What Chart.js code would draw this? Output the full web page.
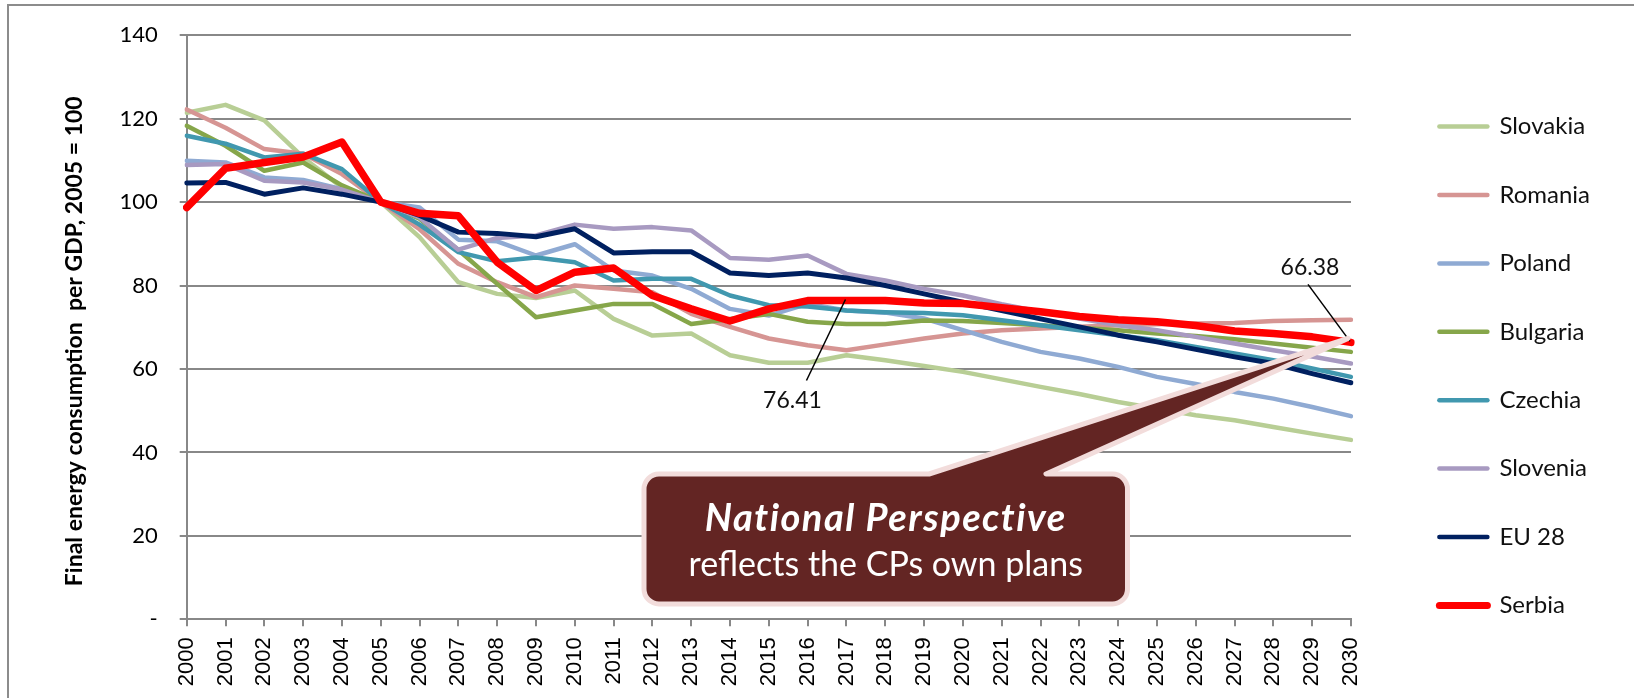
<!DOCTYPE html>
<html>
<head>
<meta charset="utf-8">
<script src="https://cdn.jsdelivr.net/npm/chart.js@4.4.1/dist/chart.umd.min.js"></script>
<style>
  html, body { margin: 0; padding: 0; background: #ffffff; }
  #wrap { width: 1640px; height: 698px; }
</style>
</head>
<body>
<div id="wrap"><canvas id="c" width="1640" height="698"></canvas></div>
<script>
// ---------------- DATA ----------------
const years = ['2000','2001','2002','2003','2004','2005','2006','2007','2008','2009','2010',
               '2011','2012','2013','2014','2015','2016','2017','2018','2019','2020',
               '2021','2022','2023','2024','2025','2026','2027','2028','2029','2030'];

const slovakia = [121.4,123.3,119.6,110.7,103.5,100,91.6,80.8,78.0,77.0,78.8,
                  72.0,68.0,68.5,63.3,61.5,61.5,63.3,62.1,60.7,59.3,
                  57.5,55.7,54.0,52.1,50.5,48.9,47.7,46.1,44.5,43.0];
const romania  = [122.2,117.8,112.7,111.6,106.7,100,93.5,85.2,80.8,77.2,80.0,
                  79.2,78.4,73.2,70.1,67.3,65.7,64.5,65.9,67.3,68.5,
                  69.3,69.7,70.1,70.5,70.7,70.9,71.0,71.5,71.7,71.8];
const poland   = [109.9,109.5,105.9,105.3,103.1,100,98.7,91.0,90.6,87.2,89.9,
                  83.6,82.4,79.2,74.4,72.8,75.6,74.0,73.5,72.1,69.3,
                  66.5,64.1,62.5,60.5,58.1,56.4,54.5,52.9,50.9,48.7];
const bulgaria = [118.3,113.5,107.5,109.5,104.0,100,96.0,88.5,80.4,72.4,74.0,
                  75.6,75.6,70.8,72.0,73.2,71.3,70.8,70.8,71.6,71.5,
                  71.0,70.5,69.9,69.3,68.5,67.9,67.1,66.1,65.1,64.1];
const czechia  = [115.9,114.0,110.7,111.6,107.9,100,94.6,88.0,85.8,86.7,85.6,
                  81.2,81.6,81.6,77.6,75.3,75.0,74.0,73.6,73.4,72.9,
                  71.7,70.5,69.3,68.1,66.9,65.3,63.7,62.1,60.1,58.1];
const slovenia = [108.9,109.1,105.1,104.7,103.0,100,96.3,88.6,91.4,92.0,94.6,
                  93.6,94.0,93.2,86.6,86.2,87.2,82.8,81.2,79.2,77.6,
                  75.5,73.7,72.1,70.5,69.3,67.7,66.1,64.5,63.0,61.3];
const eu28     = [104.6,104.7,101.9,103.4,101.9,100,96.8,92.8,92.5,91.7,93.6,
                  87.8,88.1,88.1,83.0,82.4,83.0,81.8,80.0,78.0,76.0,
                  74.0,72.0,70.1,68.1,66.5,64.7,62.9,61.3,58.9,56.7];
const serbia   = [98.7,108.1,109.5,110.8,114.4,100,97.3,96.7,85.6,78.8,83.2,
                  84.2,77.6,74.4,71.5,74.4,76.4,76.41,76.4,75.8,75.7,
                  74.7,73.7,72.6,71.8,71.3,70.4,69.1,68.5,67.7,66.38];

const seriesNames = ['Slovakia','Romania','Poland','Bulgaria','Czechia','Slovenia','EU 28','Serbia'];
const seriesData  = [slovakia, romania, poland, bulgaria, czechia, slovenia, eu28, serbia];
const seriesColors = ['#B8CE95','#D69593','#8FAAD3','#86A64A','#4198AF','#A89AC1','#002060','#FF0000'];

const yTitle = 'Final energy consumption  per GDP, 2005 = 100';
const labelledYears = ['2017', '2030'];       // Serbia points carrying value labels
const calloutTitle = 'National Perspective';
const calloutText = 'reflects the CPs own plans';

// ---------------- STYLE ----------------
const CAL = 'Lato, "Open Sans", "Noto Sans", sans-serif';
const GRID = '#888888';

const datasets = seriesNames.map((name, i) => ({
  label: name,
  data: seriesData[i],
  borderColor: seriesColors[i],
  backgroundColor: seriesColors[i],
  borderWidth: name === 'Serbia' ? 7.5 : (name === 'EU 28' ? 5 : 4.5),
  pointRadius: 0,
  pointHoverRadius: 0,
  tension: 0,
  fill: false,
  borderJoinStyle: 'round',
  borderCapStyle: 'round',
  yAxisID: 'y',
  xAxisID: 'x',
  order: seriesNames.length - 1 - i
}));

// Page background and outer frame
const framePlugin = {
  id: 'frame',
  beforeDraw(chart) {
    const ctx = chart.ctx;
    ctx.save();
    ctx.fillStyle = '#ffffff';
    ctx.fillRect(0, 0, chart.width, chart.height);
    ctx.strokeStyle = '#8c8c8c';
    ctx.lineWidth = 2;
    ctx.beginPath();
    ctx.moveTo(8, chart.height);
    ctx.lineTo(8, 5);
    ctx.lineTo(1634, 5);
    ctx.stroke();
    ctx.restore();
  }
};

// Value labels with leader lines + callout bubble
const annotationPlugin = {
  id: 'annotations',
  afterDatasetsDraw(chart) {
    const ctx = chart.ctx;
    const xs = chart.scales.x, ys = chart.scales.y;
    const sIdx = seriesNames.indexOf('Serbia');
    const offsets = {
      '2017': {lx: -40, ly: 80, tx: -54, ty: 100},
      '2030': {lx: -43, ly: -58, tx: -41, ty: -75}
    };
    ctx.save();
    labelledYears.forEach(yr => {
      const i = years.indexOf(yr);
      const v = seriesData[sIdx][i];
      const px = xs.getPixelForValue(i);
      const py = ys.getPixelForValue(v);
      const o = offsets[yr];
      ctx.strokeStyle = '#000000';
      ctx.lineWidth = 1.5;
      ctx.beginPath();
      ctx.moveTo(px + o.lx, py + o.ly);
      ctx.lineTo(px - 1, py - 1);
      ctx.stroke();
      ctx.fillStyle = '#111111';
      ctx.font = '23px ' + CAL;
      ctx.textAlign = 'center';
      ctx.textBaseline = 'middle';
      ctx.fillText(v.toFixed(2), px + o.tx, py + o.ty);
    });

    // callout bubble pointing at Serbia 2030
    const iLast = years.length - 1;
    const tipX = xs.getPixelForValue(iLast) - 3;
    const tipY = ys.getPixelForValue(seriesData[sIdx][iLast]) - 4;
    const x0 = 644, y0 = 474, x1 = 1127.5, y1 = 604, r = 15;
    const bl = 929, br = 1046;
    ctx.beginPath();
    ctx.moveTo(x0 + r, y0);
    ctx.lineTo(bl, y0);
    ctx.lineTo(tipX, tipY);
    ctx.lineTo(br, y0);
    ctx.lineTo(x1 - r, y0);
    ctx.arcTo(x1, y0, x1, y0 + r, r);
    ctx.lineTo(x1, y1 - r);
    ctx.arcTo(x1, y1, x1 - r, y1, r);
    ctx.lineTo(x0 + r, y1);
    ctx.arcTo(x0, y1, x0, y1 - r, r);
    ctx.lineTo(x0, y0 + r);
    ctx.arcTo(x0, y0, x0 + r, y0, r);
    ctx.closePath();
    ctx.fillStyle = '#632523';
    ctx.fill();
    ctx.lineJoin = 'round';
    ctx.strokeStyle = '#F2DCDB';
    ctx.lineWidth = 5;
    ctx.stroke();

    ctx.fillStyle = '#ffffff';
    ctx.textAlign = 'center';
    ctx.textBaseline = 'alphabetic';
    const cx = (x0 + x1) / 2;
    ctx.font = 'italic bold 38px ' + CAL;
    if ('letterSpacing' in ctx) ctx.letterSpacing = '1.5px';
    ctx.fillText(calloutTitle, cx, 531);
    if ('letterSpacing' in ctx) ctx.letterSpacing = '0px';
    ctx.font = '34px ' + CAL;
    ctx.fillText(calloutText, cx, 576);
    ctx.restore();
  }
};

const chart = new Chart(document.getElementById('c'), {
  type: 'line',
  data: { labels: years, datasets: datasets },
  options: {
    responsive: false,
    devicePixelRatio: 1,
    animation: false,
    events: [],
    layout: { padding: { left: 57, top: 34, right: 40, bottom: 0 } },
    plugins: {
      tooltip: { enabled: false },
      legend: {
        display: true,
        position: 'right',
        align: 'center',
        labels: {
          usePointStyle: true,
          pointStyle: 'line',
          pointStyleWidth: 48,
          padding: 44.4,
          color: '#111111',
          font: { family: CAL, size: 24 },
          generateLabels(ch) {
            return ch.data.datasets.map((ds, i) => ({
              text: ds.label,
              datasetIndex: i,
              hidden: false,
              fillStyle: ds.borderColor,
              strokeStyle: ds.borderColor,
              lineWidth: ds.label === 'Serbia' ? 7 : 4.5,
              lineCap: 'round',
              pointStyle: 'line',
              fontColor: '#111111'
            }));
          }
        }
      }
    },
    scales: {
      x: {
        type: 'category',
        offset: false,
        grid: { display: true, drawOnChartArea: false, drawTicks: true, tickLength: 7, color: GRID, lineWidth: 2 },
        border: { display: true, color: GRID, width: 2 },
        ticks: {
          autoSkip: false, maxRotation: 90, minRotation: 90, padding: 11,
          color: '#000000', font: { family: '"Liberation Sans", Arial, sans-serif', size: 22 }
        },
        afterFit(s) { s.height = 78.7; }
      },
      y: {
        type: 'linear',
        position: 'left',
        min: 0, max: 140,
        grid: { display: true, drawTicks: true, tickLength: 7, color: GRID, lineWidth: 2 },
        border: { display: true, color: GRID, width: 2 },
        ticks: {
          stepSize: 20, padding: 22, color: '#000000',
          font: { family: CAL, size: 22 },
          callback: (v) => (v === 0 ? '-' : v)
        },
        title: {
          display: true, text: yTitle + '\u00A0\u00A0\u00A0\u00A0\u00A0', color: '#000000',
          font: { family: CAL, size: 23, weight: 'bold' },
          padding: { top: 4, bottom: 4 }
        },
        afterFit(s) { s.width = 129.7; }
      },
      ySpacer: {
        type: 'linear',
        position: 'right',
        display: true,
        grid: { display: false, drawTicks: false },
        border: { display: false },
        ticks: { display: false },
        afterFit(s) { s.width = 44; }
      }
    }
  },
  plugins: [framePlugin, annotationPlugin]
});
</script>
</body>
</html>
